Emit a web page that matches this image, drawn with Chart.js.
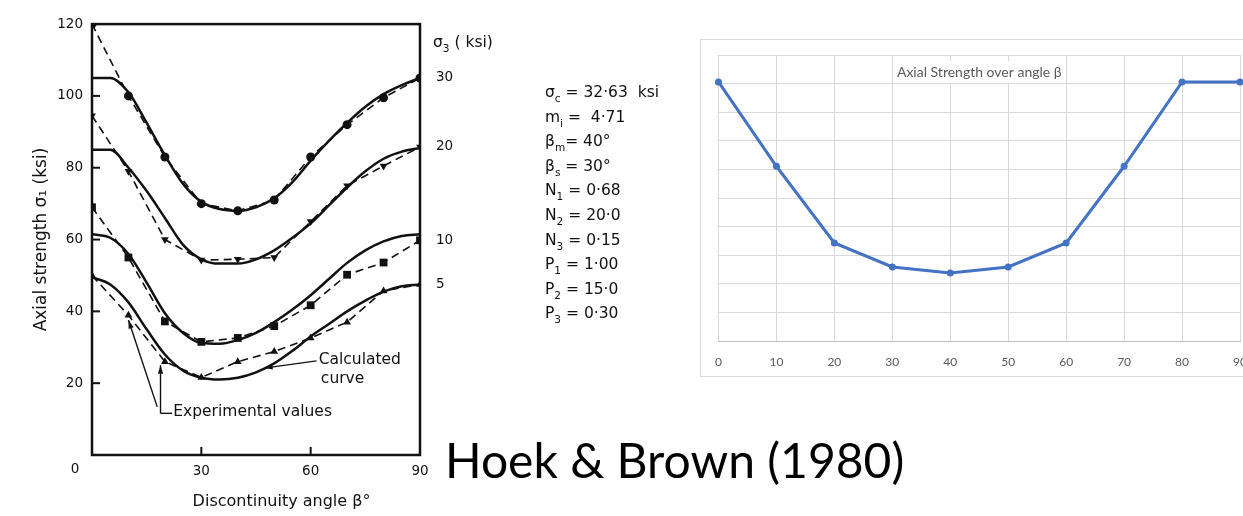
<!DOCTYPE html>
<html>
<head>
<meta charset="utf-8">
<script src="https://cdn.jsdelivr.net/npm/chart.js@4.4.1/dist/chart.umd.min.js"></script>
<style>
  html, body { margin: 0; padding: 0; background: #fff; overflow: hidden; width: 1243px; height: 516px; }
  #left { position: absolute; left: 0; top: 0; width: 690px; height: 516px; }
  #right { position: absolute; left: 700px; top: 39px; width: 600px; height: 338px; border: 1px solid #d9d9d9; box-sizing: border-box; }
  #caption { position: absolute; left: 445px; top: 436px; font: 48px Lato, "Open Sans", sans-serif; line-height: 48px; color: #000; white-space: nowrap; }
</style>
</head>
<body>
<div id="left"><canvas id="hbChart"></canvas></div>
<div id="right"><canvas id="axialChart"></canvas></div>
<div id="caption">Hoek &amp; Brown (1980)</div>
<script>
// Hoek & Brown (1980) - calculated curves (solid)
const calcAngles = [0, 5, 10, 15, 20, 25, 30, 35, 40, 45, 50, 55, 60, 65, 70, 75, 80, 85, 90];
const calc30 = [105, 105, 101, 92.5, 83.5, 75.5, 70.5, 68.5, 68, 69, 71.5, 76, 82, 87.5, 92.5, 97, 100.5, 103, 105];
const calc20 = [85, 85, 80, 73.5, 66, 58.5, 54.5, 53.3, 53.3, 54.5, 57, 60.5, 64.5, 69.5, 74.5, 79, 82.5, 84.5, 85.5];
const calc10 = [61.5, 60.5, 56, 48, 39.5, 34, 31.2, 31, 32, 34, 37, 40.5, 44.5, 49, 53.5, 57, 59.5, 61, 61.5];
const calc5 = [49.5, 47.5, 42.5, 35, 28, 23.5, 21.5, 21, 21.5, 23, 25.5, 29, 33, 36.5, 40, 43, 45.5, 47, 47.5];

// experimental values (dashed + markers)
const expAngles = [0, 10, 20, 30, 40, 50, 60, 70, 80, 90];
const exp30 = [120, 100, 83, 70, 68, 71, 83, 92, 99.5, 105];
const exp20 = [94.5, 79, 60, 54.3, 54.5, 55, 65, 75, 80.5, 85.8];
const exp10 = [69, 55, 37.2, 31.5, 32.6, 35.9, 41.7, 50.2, 53.6, 59.8];
const exp5 = [50, 38.9, 26, 21.6, 26, 28.8, 32.6, 37, 45.7, 47.5];

const sigma3Labels = ['30', '20', '10', '5'];
const params = ['σ_c = 32·63  ksi', 'm_i =  4·71', 'β_m= 40°', 'β_s = 30°', 'N_1 = 0·68',
  'N_2 = 20·0', 'N_3 = 0·15', 'P_1 = 1·00', 'P_2 = 15·0', 'P_3 = 0·30'];

// Excel chart on the right
const angles = ['0', '10', '20', '30', '40', '50', '60', '70', '80', '90'];
const axial = [90.6, 61.1, 34.3, 25.9, 23.8, 25.9, 34.3, 61.1, 90.6, 90.6];

const ink = '#111';
const face = '"DejaVu Sans", sans-serif';

function pts(xs, ys) { return xs.map((v, i) => ({ x: v, y: ys[i] })); }

// text with _x subscripts
function drawRich(ctx, str, x, y, size) {
  let cx = x;
  for (let i = 0; i < str.length; i++) {
    let ch = str[i], sub = false;
    if (ch === '_') { sub = true; ch = str[++i]; }
    ctx.font = (sub ? size * 0.68 : size) + 'px ' + face;
    ctx.fillText(ch, cx, sub ? y + size * 0.32 : y);
    cx += ctx.measureText(ch).width;
  }
}

function seg(ctx, x1, y1, x2, y2) {
  ctx.beginPath(); ctx.moveTo(x1, y1); ctx.lineTo(x2, y2); ctx.stroke();
}
function arrow(ctx, x1, y1, x2, y2) {
  seg(ctx, x1, y1, x2, y2);
  const ang = Math.atan2(y2 - y1, x2 - x1), L = 9, W = 0.3;
  ctx.beginPath();
  ctx.moveTo(x2, y2);
  ctx.lineTo(x2 - L * Math.cos(ang - W), y2 - L * Math.sin(ang - W));
  ctx.lineTo(x2 - L * Math.cos(ang + W), y2 - L * Math.sin(ang + W));
  ctx.closePath(); ctx.fill();
}

const hbDecor = {
  id: 'hbDecor',
  afterDraw(chart) {
    const { ctx, chartArea: a, scales: { x, y, y2 } } = chart;
    const px = v => x.getPixelForValue(v), py = v => y.getPixelForValue(v);
    ctx.save();
    ctx.strokeStyle = ink; ctx.fillStyle = ink;
    ctx.lineWidth = 2.5;
    ctx.strokeRect(a.left, a.top, a.width, a.height);
    // inward ticks
    ctx.lineWidth = 2;
    y.ticks.forEach(t => { if (t.value > 0 && t.value < 120) seg(ctx, a.left, py(t.value), a.left + 8, py(t.value)); });
    x.ticks.forEach(t => { if (t.value > 0 && t.value < 90) seg(ctx, px(t.value), a.bottom, px(t.value), a.bottom - 8); });

    ctx.textBaseline = 'middle';
    ctx.textAlign = 'center';
    ctx.font = '13.5px ' + face;
    ctx.fillText('0', a.left - 17, a.bottom + 14);
    ctx.font = '16px ' + face;
    ctx.fillText('Discontinuity angle β°', px(52), a.bottom + 47);

    ctx.textAlign = 'left';
    ctx.textBaseline = 'alphabetic';
    drawRich(ctx, 'σ_3 ( ksi)', y2.left + 13, 47, 15.5);
    params.forEach((p, i) => drawRich(ctx, p, a.right + 125, 97 + i * 24.6, 15.5));

    // annotations
    ctx.font = '15.5px ' + face;
    ctx.textBaseline = 'middle';
    ctx.fillText('Calculated', px(62.2), py(26.5));
    ctx.fillText('curve', px(62.8), py(21.3));
    ctx.fillText('Experimental values', px(22.3), py(12));
    ctx.lineWidth = 1.4;
    arrow(ctx, px(61.6), py(26.2), px(47.2), py(24.2));
    arrow(ctx, px(17.9), py(13.4), px(10), py(37.6));
    seg(ctx, px(18.8), py(11.6), px(22), py(11.6));
    arrow(ctx, px(18.8), py(11.6), px(18.8), py(25));
    ctx.restore();
  }
};

const calcStyle = { borderColor: ink, borderWidth: 2.5, pointRadius: 0, cubicInterpolationMode: 'monotone', fill: false, order: 1 };
const expStyle = { borderColor: ink, backgroundColor: ink, pointBackgroundColor: ink, pointBorderColor: ink,
  borderWidth: 1.6, borderDash: [8, 5], pointRadius: 4.5, pointBorderWidth: 0, fill: false, order: 2 };

new Chart(document.getElementById('hbChart'), {
  type: 'line',
  data: {
    datasets: [
      { ...expStyle, label: 'exp 30', data: pts(expAngles, exp30), pointStyle: 'circle' },
      { ...expStyle, label: 'exp 20', data: pts(expAngles, exp20), pointStyle: 'triangle', pointRotation: 180 },
      { ...expStyle, label: 'exp 10', data: pts(expAngles, exp10), pointStyle: 'rect', pointRadius: 5.5 },
      { ...expStyle, label: 'exp 5', data: pts(expAngles, exp5), pointStyle: 'triangle' },
      { ...calcStyle, label: 'calc 30', data: pts(calcAngles, calc30) },
      { ...calcStyle, label: 'calc 20', data: pts(calcAngles, calc20) },
      { ...calcStyle, label: 'calc 10', data: pts(calcAngles, calc10) },
      { ...calcStyle, label: 'calc 5', data: pts(calcAngles, calc5) }
    ]
  },
  options: {
    responsive: true,
    maintainAspectRatio: false,
    animation: false,
    layout: { padding: { left: 0, top: 16, right: 220, bottom: 0 } },
    plugins: { legend: { display: false }, tooltip: { enabled: false } },
    scales: {
      x: {
        type: 'linear', min: 0, max: 90,
        grid: { drawOnChartArea: false, drawTicks: false },
        border: { display: false },
        ticks: { stepSize: 30, padding: 8, color: ink, font: { family: face, size: 13.5 },
          callback: v => (v === 0 ? '' : v) },
        afterFit: s => { s.height = 61; }
      },
      y: {
        min: 0, max: 120,
        grid: { drawOnChartArea: false, drawTicks: false },
        border: { display: false },
        ticks: { stepSize: 20, padding: 9, color: ink, font: { family: face, size: 13.5 },
          callback: v => (v === 0 ? '' : v) },
        title: { display: true, text: 'Axial strength σ₁ (ksi)', color: ink,
          font: { family: face, size: 17 }, padding: { top: 31, bottom: 0 } },
        afterFit: s => { s.width = 92; }
      },
      y2: {
        position: 'right', min: 0, max: 120,
        grid: { drawOnChartArea: false, drawTicks: false },
        border: { display: false },
        afterBuildTicks: s => { s.ticks = [exp30, exp20, exp10, exp5].map(d => ({ value: d[d.length - 1] })); },
        ticks: { padding: 16, color: ink, font: { family: face, size: 13.5 },
          callback: (v, i) => sigma3Labels[i] },
        afterFit: s => { s.width = 50; }
      }
    }
  },
  plugins: [hbDecor]
});

const excelTitle = {
  id: 'excelTitle',
  beforeDatasetsDraw(chart) {
    const { ctx, chartArea: a } = chart;
    const text = 'Axial Strength over angle β';
    ctx.save();
    ctx.font = '14px Lato, "Open Sans", sans-serif';
    const w = ctx.measureText(text).width;
    const cx = (a.left + a.right) / 2, cy = a.top + 17;
    ctx.fillStyle = '#fff';
    ctx.fillRect(cx - w / 2 - 3, cy - 11, w + 6, 22);
    ctx.fillStyle = '#595959';
    ctx.textAlign = 'center'; ctx.textBaseline = 'middle';
    ctx.fillText(text, cx, cy);
    ctx.restore();
  }
};

new Chart(document.getElementById('axialChart'), {
  type: 'line',
  data: {
    labels: angles,
    datasets: [{
      label: 'Axial strength',
      data: axial,
      borderColor: '#4472C4',
      backgroundColor: '#4472C4',
      pointBackgroundColor: '#4472C4',
      pointBorderColor: '#4472C4',
      borderWidth: 3,
      pointRadius: 3.5,
      pointBorderWidth: 0,
      tension: 0,
      fill: false
    }]
  },
  options: {
    responsive: true,
    maintainAspectRatio: false,
    animation: false,
    layout: { padding: { left: 13, top: 15, right: 59, bottom: 0 } },
    plugins: { legend: { display: false }, tooltip: { enabled: false } },
    scales: {
      x: {
        grid: { color: '#d9d9d9', drawTicks: false },
        border: { color: '#bfbfbf' },
        ticks: { padding: 14, color: '#595959', font: { family: 'Lato, "Open Sans", sans-serif', size: 12 } },
        afterFit: s => { s.height = 35; }
      },
      y: {
        min: 0, max: 100,
        grid: { color: '#d9d9d9', drawTicks: false },
        border: { display: false },
        ticks: { stepSize: 10, display: false },
        afterFit: s => { s.width = 0; }
      }
    }
  },
  plugins: [excelTitle]
});
</script>
</body>
</html>
